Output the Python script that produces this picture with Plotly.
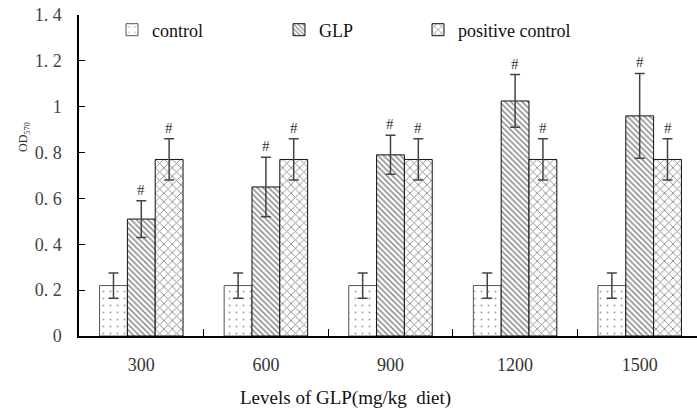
import plotly.graph_objects as go

categories = ["300", "600", "900", "1200", "1500"]
control = [0.22, 0.22, 0.22, 0.22, 0.22]
control_err = [0.055, 0.055, 0.055, 0.055, 0.055]
glp = [0.51, 0.65, 0.79, 1.025, 0.96]
glp_err = [0.08, 0.13, 0.085, 0.115, 0.185]
positive = [0.77, 0.77, 0.77, 0.77, 0.77]
positive_err = [0.09, 0.09, 0.09, 0.09, 0.09]
y_ticks = [0, 0.2, 0.4, 0.6, 0.8, 1.0, 1.2, 1.4]
y_ticktext = ["0", "0. 2", "0. 4", "0. 6", "0. 8", "1", "1. 2", "1. 4"]

xpos = list(range(len(categories)))
serif = "Liberation Serif"
err_color = "#444444"

# plot-area pixel geometry (for paper-coordinate conversion)
L, R, T, B = 79, 697, 15, 336
def px_x(p):
    return (p - L) / (R - L)
def px_y(p):
    return (B - p) / (B - T)

fig = go.Figure()
fig.add_trace(go.Bar(
    x=xpos, y=control, name="control", legend="legend",
    marker=dict(color="white", line=dict(color="#555555", width=1),
                pattern=dict(shape=".", fgcolor="#444444", bgcolor="white", size=7, solidity=0.06)),
    error_y=dict(type="data", array=control_err, color=err_color, thickness=1.5, width=5),
))
fig.add_trace(go.Bar(
    x=xpos, y=glp, name="GLP", legend="legend2",
    marker=dict(color="white", line=dict(color="#111111", width=1),
                pattern=dict(shape="\\", fgcolor="#1a1a1a", bgcolor="white", size=4, solidity=0.38)),
    error_y=dict(type="data", array=glp_err, color=err_color, thickness=1.5, width=5),
))
fig.add_trace(go.Bar(
    x=xpos, y=positive, name="positive control", legend="legend3",
    marker=dict(color="white", line=dict(color="#111111", width=1),
                pattern=dict(shape="x", fgcolor="#1a1a1a", bgcolor="white", size=6, solidity=0.28)),
    error_y=dict(type="data", array=positive_err, color=err_color, thickness=1.5, width=5),
))

# significance marks
for i in xpos:
    fig.add_annotation(x=i, y=glp[i] + glp_err[i], text="#", showarrow=False,
                       yanchor="bottom", yshift=1, xshift=0,
                       font=dict(family=serif, size=15, color="#333"))
    fig.add_annotation(x=i, y=positive[i] + positive_err[i], text="#", showarrow=False,
                       yanchor="bottom", yshift=1, xshift=28,
                       font=dict(family=serif, size=15, color="#333"))

# axis titles
fig.add_annotation(xref="paper", yref="paper", x=px_x(345), y=px_y(398), text="Levels of GLP(mg/kg  diet)",
                   showarrow=False, yanchor="middle", font=dict(family=serif, size=19, color="#111"))
fig.add_annotation(xref="paper", yref="paper", x=px_x(14), y=px_y(137),
                   text="OD<sub>570</sub>", textangle=-90, showarrow=False,
                   font=dict(family=serif, size=12, color="#333"))

legend_font = dict(family=serif, size=18, color="#111")
legend_common = dict(orientation="h", xref="container", yref="container", yanchor="middle",
                     y=1 - 30 / 412, font=legend_font,
                     bgcolor="rgba(0,0,0,0)", itemwidth=30, tracegroupgap=0)
fig.update_layout(
    width=697, height=412,
    font=dict(family=serif, size=18, color="#111"),
    margin=dict(l=L, r=0, t=T, b=412 - B, autoexpand=False),
    plot_bgcolor="white", paper_bgcolor="white",
    barmode="group", bargap=0.33, bargroupgap=0,
    showlegend=True,
    legend=dict(x=112 / 697, **legend_common),
    legend2=dict(x=279 / 697, **legend_common),
    legend3=dict(x=418 / 697, **legend_common),
    xaxis=dict(range=[-0.5, 4.46], tickvals=xpos, ticktext=categories, ticks="",
               showline=True, linecolor="black", linewidth=1.5, showgrid=False, zeroline=False,
               tickfont=dict(family=serif, size=18, color="#333"), ticklabelstandoff=12,
               minor=dict(tickvals=[0.5, 1.5, 2.5, 3.5], ticks="inside", ticklen=7,
                          tickcolor="black", tickwidth=1)),
    yaxis=dict(range=[0, 1.4], tickvals=y_ticks, ticktext=y_ticktext, ticks="inside", ticklen=6,
               tickcolor="black", showline=True, linecolor="black", linewidth=1.5,
               showgrid=False, zeroline=False, ticklabelstandoff=12,
               tickfont=dict(family=serif, size=18, color="#444")),
)

fig.write_html("out.html", config={"displayModeBar": False},
               post_script="document.body.style.margin='0';")
